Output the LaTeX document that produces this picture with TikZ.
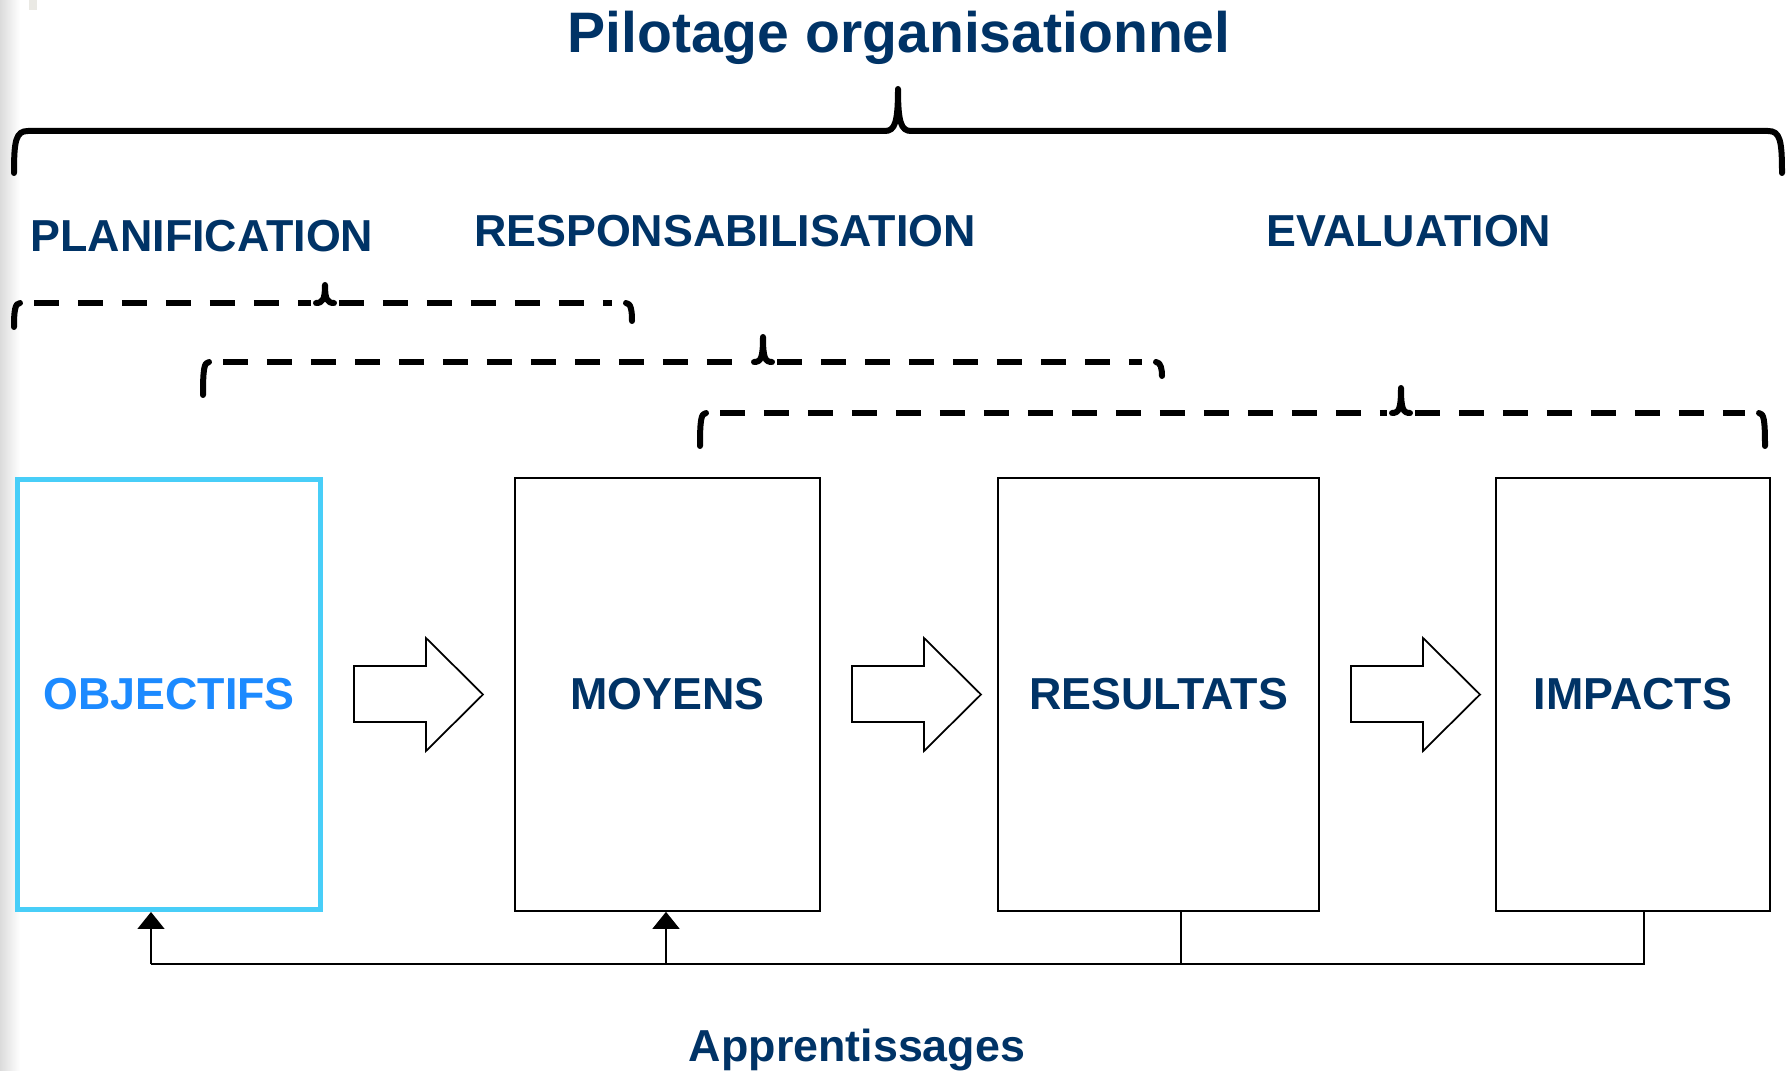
\documentclass[tikz,border=0pt]{standalone}
\usepackage{fontspec}
\setmainfont{Liberation Sans}
\usepackage{xcolor}
\usetikzlibrary{arrows.meta}

\definecolor{navy}{RGB}{0,51,102}
\definecolor{objblue}{RGB}{28,138,255}
\definecolor{objcyan}{RGB}{72,206,248}

\tikzset{
  box/.style={draw, line width=0.035cm, inner sep=0pt, minimum height=8.66cm,
    text=navy, font=\fontsize{25.5}{30}\selectfont\bfseries},
  phase/.style={text=navy, font=\fontsize{25.5}{30}\selectfont\bfseries, anchor=base, inner sep=0pt},
  brace/.style={line width=0.12cm, line cap=round, line join=round},
  dbrace/.style={line width=0.13cm, dash pattern=on 0.5cm off 0.38cm},
  flow/.style={draw, line width=0.035cm, fill=white},
  fb/.style={line width=0.03cm}
}

\begin{document}
\begin{tikzpicture}[x=0.02cm, y=-0.02cm]
 \useasboundingbox (0,0) rectangle (1786,1071);
 \fill[white] (0,0) rectangle (1786,1071);
 \shade[left color=black!14, right color=white] (0,0) rectangle (20,1071);
 \fill[yellow!20!black!12] (29,0) rectangle (37,10);

 % titre et grande accolade
 \node[anchor=base, inner sep=0pt, text=navy, font=\fontsize{32.5}{38}\selectfont\bfseries]
   (titre) at (899,53) {Pilotage organisationnel};
 \draw[brace] (14,173) .. controls (14,140) and (16,131) .. (28,131) -- (885,131)
   .. controls (895,131) and (898,122) .. (898,89)
   .. controls (898,122) and (901,131) .. (911,131) -- (1768,131)
   .. controls (1780,131) and (1782,140) .. (1782,173);

 % phases
 \node[phase] (plan) at (202,252) {PLANIFICATION};
 \node[phase] (resp) at (725,247) {RESPONSABILISATION};
 \node[phase] (eval) at (1409,247) {EVALUATION};

 % accolades en tirets
 \foreach \l/\r/\p/\y/\bl/\br/\t in {14/632/325/303/327/321/285,
                                   203/1162/763/362/395/376/337,
                                   700/1765/1401/413/446/446/388}{
   \draw[dbrace] (\l+20,\y) -- (\p-14,\y);
   \draw[dbrace] (\p+14,\y) -- (\r-20,\y);
   \draw[brace] (\l,\bl) .. controls (\l,\y+8) and (\l+1,\y) .. (\l+6,\y);
   \draw[brace] (\r-6,\y) .. controls (\r-1,\y) and (\r,\y+8) .. (\r,\br);
   \draw[brace] (\p-9,\y) .. controls (\p-2,\y) and (\p,\y-4) .. (\p,\t)
     .. controls (\p,\y-4) and (\p+2,\y) .. (\p+9,\y);
 }

 % cadres
 \node[box, draw=objcyan, line width=0.1cm, text=objblue,
   minimum width=6.06cm, minimum height=8.6cm] (obj) at (169,694.5) {OBJECTIFS};
 \node[box, minimum width=6.1cm] (moy) at (667.5,694.5) {MOYENS};
 \node[box, minimum width=6.42cm] (res) at (1158.5,694.5) {RESULTATS};
 \node[box, minimum width=5.48cm] (imp) at (1633,694.5) {IMPACTS};

 % fleches entre les cadres
 \foreach \s in {0,498,997}{
   \draw[flow] (354+\s,666) -- (426+\s,666) -- (426+\s,638) -- (483+\s,694.5)
     -- (426+\s,751) -- (426+\s,722) -- (354+\s,722) -- cycle;
 }

 % boucle d'apprentissage
 \coordinate (fbL) at (151,964);
 \coordinate (fbM) at (666,964);
 \coordinate (fbR) at (1181,964);
 \coordinate (fbI) at (1644,964);
 \draw[fb] (imp.south -| fbI) -- (fbI) -- (fbL);
 \draw[fb] (res.south -| fbR) -- (fbR);
 \draw[fb, -{Triangle[width=0.54cm, length=0.34cm]}] (fbL) -- (obj.south -| fbL);
 \draw[fb, -{Triangle[width=0.54cm, length=0.34cm]}] (fbM) -- (moy.south -| fbM);

 \node[phase] (appr) at (857,1061) {Apprentissages};
\end{tikzpicture}
\end{document}
